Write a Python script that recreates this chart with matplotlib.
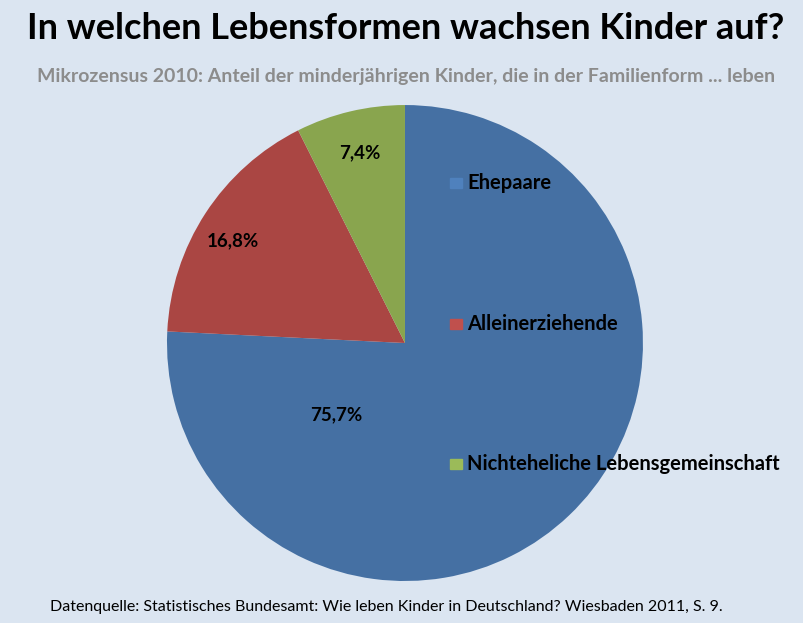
import matplotlib.pyplot as plt

# data
categories = ['Ehepaare', 'Alleinerziehende', 'Nichteheliche Lebensgemeinschaft']
shares = [75.7, 16.8, 7.4]
pie_colors = ['#4570A3', '#AA4643', '#89A54E']
legend_colors = ['#4F81BD', '#C0504D', '#9BBB59']

title = 'In welchen Lebensformen wachsen Kinder auf?'
subtitle = 'Mikrozensus 2010: Anteil der minderjährigen Kinder, die in der Familienform ... leben'
source = 'Datenquelle: Statistisches Bundesamt: Wie leben Kinder in Deutschland? Wiesbaden 2011, S. 9.'

bg = '#DBE5F1'
plt.rcParams['font.family'] = ['Lato', 'DejaVu Sans']

fig = plt.figure(figsize=(8.04, 6.23), dpi=100, facecolor=bg)

ax = fig.add_axes([0.2077, 0.0674, 0.592, 0.764])
ax.set_facecolor(bg)
wedges, texts, autotexts = ax.pie(
    shares, colors=pie_colors, startangle=90, counterclock=False,
    radius=1, autopct='%1.1f', pctdistance=0.82,
    textprops=dict(fontsize=13.5, fontweight='bold', color='black'))
for t, v in zip(autotexts, shares):
    t.set_text(f'{v:.1f}'.replace('.', ',') + '%')
# Excel placed the big label lower left of the centre
autotexts[0].set_position((-0.29, -0.30))
autotexts[1].set_position((-0.725, 0.43))
ax.set_xlim(-1, 1)
ax.set_ylim(-1, 1)
ax.set_aspect('equal')
ax.axis('off')

# legend
legend_y = [0.707, 0.48, 0.255]
for name, col, y in zip(categories, legend_colors, legend_y):
    fig.patches.append(plt.Rectangle((0.5597, y - 0.008), 0.0149, 0.016,
                                     transform=fig.transFigure, color=col))
    fig.text(0.581, y, name, fontsize=14.5, fontweight='bold', va='center')

fig.text(0.505, 0.955, title, fontsize=26, ha='center', va='center', fontweight='bold')
fig.text(0.505, 0.878, subtitle, fontsize=14, ha='center', va='center',
         color='#8C8C8C', fontweight='bold')
fig.text(0.062, 0.025, source, fontsize=11.5, ha='left', va='center')

fig.savefig('out.png', dpi=100, facecolor=bg)
